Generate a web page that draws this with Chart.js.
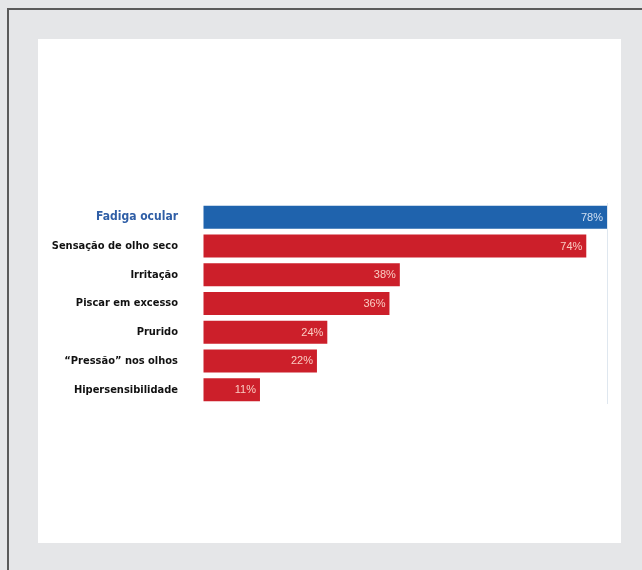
<!DOCTYPE html>
<html>
<head>
<meta charset="utf-8">
<script src="https://cdn.jsdelivr.net/npm/chart.js@4/dist/chart.umd.min.js"></script>
<style>
  html, body { margin: 0; padding: 0; background: #e5e6e8; width: 642px; height: 570px; overflow: hidden; }
  #frame { position: absolute; left: 7px; top: 8px; width: 700px; height: 700px;
           border-left: 2px solid #5a5a5a; border-top: 2px solid #5a5a5a; box-sizing: border-box; }
  #panel { position: absolute; left: 38px; top: 39px; width: 583px; height: 504px; background: #ffffff; }
  canvas { display: block; }
</style>
</head>
<body>
<div id="frame"></div>
<div id="panel"><canvas id="c" width="583" height="504"></canvas></div>
<script>
const categories = ["Fadiga ocular", "Sensação de olho seco", "Irritação", "Piscar em excesso", "Prurido", "“Pressão” nos olhos", "Hipersensibilidade"];
const values = [78, 74, 38, 36, 24, 22, 11];
const valueLabels = ["78%", "74%", "38%", "36%", "24%", "22%", "11%"];
const barColors = ["#1f63ad", "#cc1f2a", "#cc1f2a", "#cc1f2a", "#cc1f2a", "#cc1f2a", "#cc1f2a"];
const labelColors = ["#2f5ea6", "#111111", "#111111", "#111111", "#111111", "#111111", "#111111"];

const valueLabelPlugin = {
  id: 'valueLabels',
  afterDatasetsDraw(chart) {
    const ctx = chart.ctx;
    const meta = chart.getDatasetMeta(0);
    ctx.save();
    ctx.font = '11px "Liberation Sans", Arial, sans-serif';
    ctx.textAlign = 'right';
    ctx.textBaseline = 'middle';
    meta.data.forEach((bar, i) => {
      ctx.fillStyle = i === 0 ? 'rgba(225,235,248,0.9)' : 'rgba(255,222,210,0.9)';
      ctx.fillText(valueLabels[i], bar.x - 4, bar.y + 0.5);
    });
    ctx.restore();
  }
};

new Chart(document.getElementById('c'), {
  type: 'bar',
  data: {
    labels: categories,
    datasets: [{
      data: values,
      backgroundColor: barColors,
      borderWidth: 0,
      categoryPercentage: 0.8,
      barPercentage: 1.0
    }]
  },
  options: {
    indexAxis: 'y',
    responsive: false,
    animation: false,
    layout: { padding: { left: 0, right: 14, top: 164, bottom: 139 } },
    plugins: { legend: { display: false }, tooltip: { enabled: false } },
    scales: {
      x: {
        min: 0, max: 78,
        display: true,
        ticks: { display: false },
        border: { display: false },
        grid: {
          drawTicks: false,
          color: (c) => (c.tick && c.tick.value === 78) ? '#dfe7ef' : 'rgba(0,0,0,0)',
          lineWidth: 1
        }
      },
      y: {
        border: { display: false },
        grid: { display: false, drawTicks: false },
        afterFit: (s) => { s.width = 165; },
        ticks: {
          padding: 25,
          color: (c) => labelColors[c.index],
          font: (c) => ({ family: '"DejaVu Sans Condensed", "Liberation Sans Narrow", Arial, sans-serif', size: c.index === 0 ? 12 : 11, weight: 'bold' })
        }
      }
    }
  },
  plugins: [valueLabelPlugin]
});
</script>
</body>
</html>
